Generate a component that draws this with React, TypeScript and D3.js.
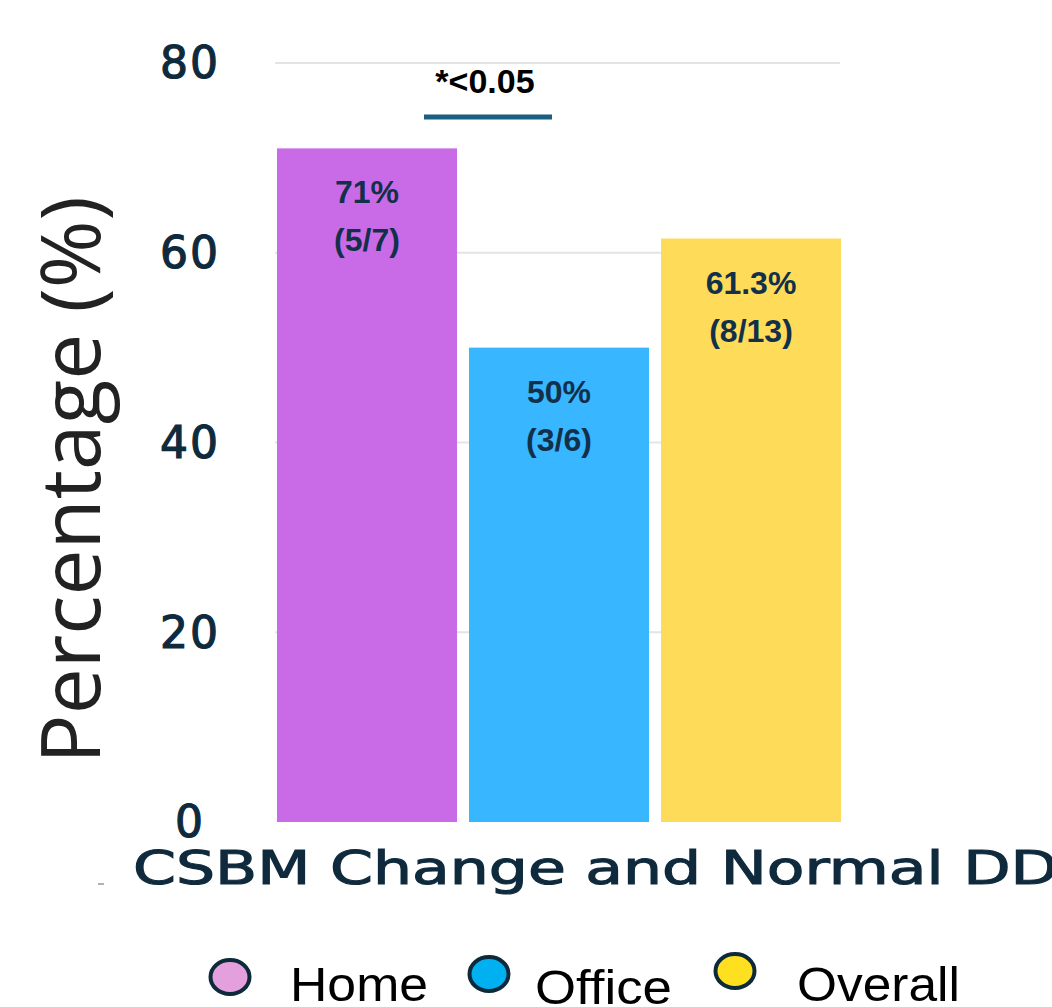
import React from "react";
import * as d3 from "d3";

const categories = ["Home", "Office", "Overall"];
const values = [71, 50, 61.5];
const labelsPct = ["71%", "50%", "61.3%"];
const labelsFrac = ["(5/7)", "(3/6)", "(8/13)"];
const yTicks = [0, 20, 40, 60, 80];
const colors = ["#c96be6", "#38b6ff", "#fedc5a"];
const legendFill = ["#e4a0dc", "#00b0f0", "#ffe020"];
const legendWidths = [138, 137, 163];

export default function App() {
  const W = 1052, H = 1007;
  const y = d3.scaleLinear().domain([0, 80]).range([822, 63]);
  const x = d3.scaleBand().domain(categories).range([277, 841]).paddingInner(0.0625).paddingOuter(0);
  const legendPos = [
    { cx: 230, cy: 977, tx: 290, ty: 1001 },
    { cx: 489, cy: 974, tx: 535, ty: 1004 },
    { cx: 735, cy: 971, tx: 797, ty: 1001 },
  ];
  const navy = "#0f2a3c";
  return (
    <svg width={W} height={H} style={{ position: "absolute", left: 0, top: 0, background: "#fff" }}>
      <rect width={W} height={H} fill="#fff" />
      {yTicks.filter(t => t > 0).map(t => (
        <line key={t} x1={275} x2={840} y1={y(t)} y2={y(t)} stroke="#e1e5e8" strokeWidth={2} />
      ))}
      {yTicks.map(t => (
        <text key={t} x={190} y={y(t)} dy="0.35em" textAnchor="middle" fontFamily="DejaVu Sans" fontSize={44} fill={navy} stroke={navy} strokeWidth={1.2} letterSpacing={2}>{t}</text>
      ))}
      {categories.map((c, i) => {
        const bx = x(c)!;
        const bw = x.bandwidth();
        return (
          <g key={c}>
            <rect x={bx} y={y(values[i])} width={bw} height={y(0) - y(values[i])} fill={colors[i]} />
            <text x={bx + bw / 2} y={y(values[i]) + 55} textAnchor="middle" fontFamily="Liberation Sans" fontWeight="bold" fontSize={32} fill="#12304a">{labelsPct[i]}</text>
            <text x={bx + bw / 2} y={y(values[i]) + 103} textAnchor="middle" fontFamily="Liberation Sans" fontWeight="bold" fontSize={32} fill="#12304a">{labelsFrac[i]}</text>
          </g>
        );
      })}
      <line x1={424} x2={552} y1={117} y2={117} stroke="#1a5e80" strokeWidth={5} />
      <text x={485} y={93} textAnchor="middle" fontFamily="Liberation Sans" fontWeight="bold" fontSize={34} fill="#000">*&lt;0.05</text>
      <text x={133} y={884} fontFamily="DejaVu Sans" fontSize={46} fill={navy} stroke={navy} strokeWidth={1.1} textLength={925} lengthAdjust="spacingAndGlyphs">CSBM Change and Normal DD</text>
      <line x1={98} x2={104} y1={884} y2={884} stroke="#999" strokeWidth={1.5} />
      <text transform={`translate(100,480) rotate(-90)`} textAnchor="middle" fontFamily="Open Sans" fontSize={82} fill="#222">Percentage (%)</text>
      {categories.map((c, i) => (
        <g key={c}>
          <ellipse cx={legendPos[i].cx} cy={legendPos[i].cy} rx={19.5} ry={17} fill={legendFill[i]} stroke="#0d2a3a" strokeWidth={4} />
          <text x={legendPos[i].tx} y={legendPos[i].ty} fontFamily="Liberation Sans" fontSize={49} fill="#000" textLength={legendWidths[i]} lengthAdjust="spacingAndGlyphs">{c}</text>
        </g>
      ))}
    </svg>
  );
}
